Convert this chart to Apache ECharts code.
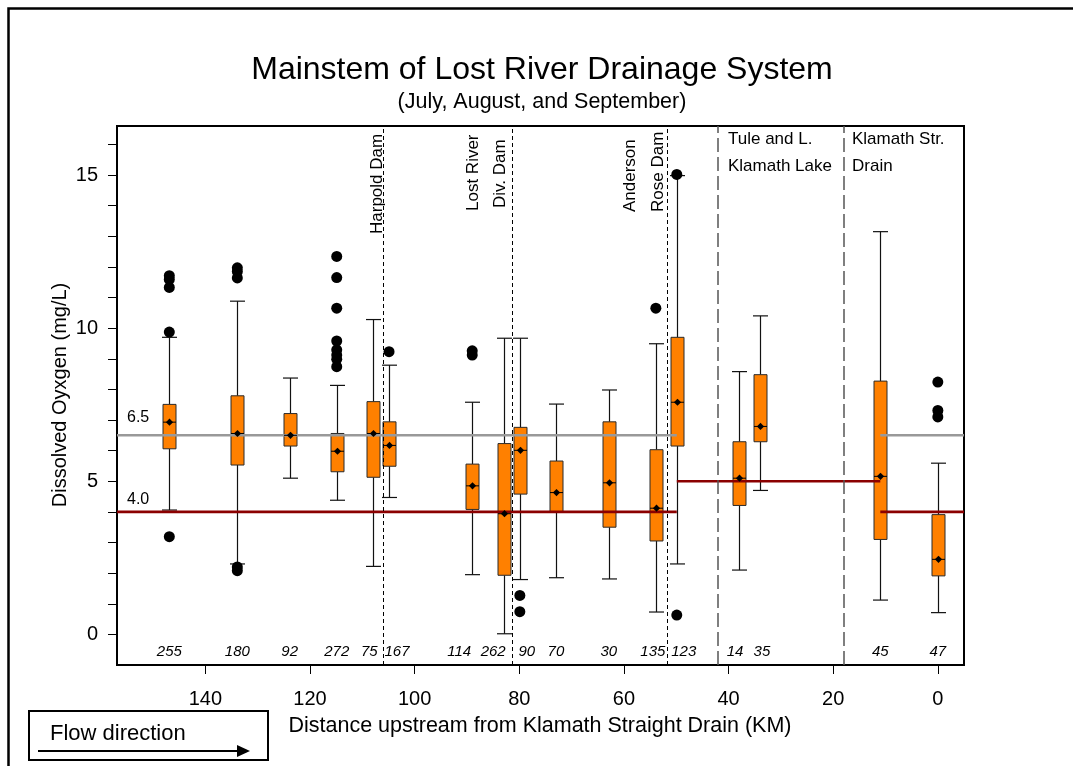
<!DOCTYPE html>
<html><head><meta charset="utf-8">
<script src="https://cdn.jsdelivr.net/npm/echarts@6/dist/echarts.min.js"></script>
<style>html,body{margin:0;padding:0;background:#fff}#c{width:1073px;height:766px}</style>
</head><body><div id="c"></div>
<script>
// ---- data (km upstream, dissolved oxygen mg/L) ----
const siteKm      = [146.9, 133.9, 123.9, 114.9, 107.9, 104.9, 89.0, 82.9, 79.9, 73.0, 62.9, 53.9, 49.9, 38.0, 34.0, 11.0, 0.0];
const lowWhisker  = [4.06, 2.30, 5.10, 4.38, 2.22, 4.47, 1.95, 0.02, 1.79, 1.85, 1.81, 0.73, 2.30, 2.10, 4.70, 1.12, 0.71];
const q1          = [6.06, 5.53, 6.15, 5.31, 5.13, 5.49, 4.08, 1.93, 4.58, 4.00, 3.50, 3.05, 6.15, 4.21, 6.29, 3.10, 1.91];
const medians     = [6.93, 6.56, 6.50, 5.98, 6.56, 6.17, 4.85, 3.94, 6.01, 4.63, 4.95, 4.12, 7.58, 5.10, 6.79, 5.16, 2.45];
const means       = [6.93, 6.56, 6.50, 5.98, 6.56, 6.17, 4.85, 3.94, 6.01, 4.63, 4.95, 4.12, 7.58, 5.10, 6.79, 5.16, 2.45];
const q3          = [7.51, 7.79, 7.21, 6.56, 7.60, 6.94, 5.56, 6.23, 6.76, 5.66, 6.94, 6.03, 9.70, 6.29, 8.48, 8.27, 3.91];
const highWhisker = [9.70, 10.88, 8.37, 8.13, 10.28, 8.79, 7.58, 9.67, 9.67, 7.52, 7.98, 9.49, 14.98, 8.58, 10.40, 13.15, 5.59];
const sampleCounts = [255, 180, 92, 272, 75, 167, 114, 262, 90, 70, 30, 135, 123, 14, 35, 45, 47];
const outliers = [
  [146.9, 11.71], [146.9, 11.59], [146.9, 11.33], [146.9, 9.87], [146.9, 3.19],
  [133.9, 11.97], [133.9, 11.85], [133.9, 11.64], [133.9, 2.20], [133.9, 2.08],
  [114.9, 12.34], [114.9, 11.65], [114.9, 10.65], [114.9, 9.58], [114.9, 9.29], [114.9, 9.12], [114.9, 8.98], [114.9, 8.74],
  [104.9, 9.23],
  [89.0, 9.26], [89.0, 9.12],
  [79.9, 1.27], [79.9, 0.74],
  [53.9, 10.65],
  [49.9, 15.02], [49.9, 0.63],
  [0.0, 8.24], [0.0, 7.31], [0.0, 7.10]
];
const damKm = [106.0, 81.4, 51.8];
const regionKm = [42.0, 18.0];
const grayStdUpper = [[156.9, 6.5], [49.9, 6.5]];
const redStdUpper  = [[156.9, 4.0], [49.9, 4.0]];
const redStdLake   = [[49.9, 5.0], [11.0, 5.0]];
const grayStdLower = [[11.0, 6.5], [-5, 6.5]];
const redStdLower  = [[11.0, 4.0], [-5, 4.0]];
const xTickValues = [0, 20, 40, 60, 80, 100, 120, 140];
const yTickValues = [0, 1, 2, 3, 4, 5, 6, 7, 8, 9, 10, 11, 12, 13, 14, 15, 16];
const yLabelValues = [0, 5, 10, 15];

// ---- layout (pixel nudges of crowded count labels, by box index) ----
const countNudgePx = {4: -4, 5: 8, 6: -13, 7: -11, 8: 7, 11: -3, 12: 7, 13: -4, 14: 2};

// ---- chart ----
const FONT = '"Liberation Sans", Arial, sans-serif';
const chart = echarts.init(document.getElementById('c'), null, {renderer: 'canvas'});
const boxData = siteKm.map((x, i) => [x, lowWhisker[i], q1[i], medians[i], q3[i], highWhisker[i], means[i]]);
const countData = siteKm.map((x, i) => [x, -0.58, sampleCounts[i]]);
const BW = 13, CW = 15;

function renderBox(params, api) {
  const x = api.value(0);
  const pL = api.coord([x, api.value(1)]);
  const p1 = api.coord([x, api.value(2)]);
  const p3 = api.coord([x, api.value(4)]);
  const pH = api.coord([x, api.value(5)]);
  const cx = Math.round(pL[0]) + 0.5;
  const ws = {stroke: '#111', lineWidth: 1.2};
  return {type: 'group', children: [
    {type: 'line', shape: {x1: cx, y1: pH[1], x2: cx, y2: p3[1]}, style: ws},
    {type: 'line', shape: {x1: cx, y1: p1[1], x2: cx, y2: pL[1]}, style: ws},
    {type: 'line', shape: {x1: cx - CW / 2, y1: pH[1], x2: cx + CW / 2, y2: pH[1]}, style: ws},
    {type: 'line', shape: {x1: cx - CW / 2, y1: pL[1], x2: cx + CW / 2, y2: pL[1]}, style: ws},
    {type: 'rect', shape: {x: cx - BW / 2, y: p3[1], width: BW, height: p1[1] - p3[1]},
      style: {fill: '#ff8000', stroke: '#2a2a2a', lineWidth: 1}}
  ]};
}
function renderMid(params, api) {
  const x = api.value(0);
  const pm = api.coord([x, api.value(3)]);
  const pa = api.coord([x, api.value(6)]);
  const cx = Math.round(pm[0]) + 0.5;
  const d = 3.6;
  return {type: 'group', children: [
    {type: 'line', shape: {x1: cx - BW / 2, y1: pm[1], x2: cx + BW / 2, y2: pm[1]}, style: {stroke: '#000', lineWidth: 1}},
    {type: 'polygon', shape: {points: [[cx, pa[1] - d], [cx + d, pa[1]], [cx, pa[1] + d], [cx - d, pa[1]]]}, style: {fill: '#000'}}
  ]};
}
function renderCount(params, api) {
  const p = api.coord([api.value(0), api.value(1)]);
  const dx = countNudgePx[params.dataIndex] || 0;
  return {type: 'text', x: p[0] + dx, y: p[1], style: {
    text: String(api.value(2)), fontFamily: FONT, fontStyle: 'italic', fontSize: 15,
    fill: '#000', align: 'center', verticalAlign: 'middle'}};
}
function stdLine(data, color) {
  return {type: 'line', data: data, symbol: 'none', silent: true, z: 4,
    lineStyle: {color: color, width: 2.6}, animation: false};
}

const option = {
  animation: false,
  grid: {left: 117, top: 126, width: 847, height: 539, show: true, borderColor: '#000', borderWidth: 2, backgroundColor: 'transparent'},
  xAxis: {
    type: 'value', inverse: true, min: -5, max: 156.9,
    axisLine: {show: true, onZero: false, lineStyle: {color: '#000', width: 2}},
    axisTick: {show: true, length: 9, lineStyle: {color: '#000', width: 1}, customValues: xTickValues},
    axisLabel: {show: true, margin: 24, fontFamily: FONT, fontSize: 20, color: '#000', customValues: xTickValues},
    splitLine: {show: false}
  },
  yAxis: {
    type: 'value', min: -1, max: 16.6,
    axisLine: {show: true, onZero: false, lineStyle: {color: '#000', width: 2}},
    axisTick: {show: true, length: 9, lineStyle: {color: '#000', width: 1}, customValues: yTickValues},
    axisLabel: {show: true, margin: 19, fontFamily: FONT, fontSize: 20, color: '#000', customValues: yLabelValues},
    splitLine: {show: false}
  },
  series: [
    {type: 'line', data: [], silent: true, z: 1,
      markLine: {silent: true, symbol: ['none', 'none'], label: {show: false}, animation: false,
        lineStyle: {color: '#000', type: [4, 3], width: 1},
        data: damKm.map(v => ({xAxis: v}))}},
    {type: 'line', data: [], silent: true, z: 1,
      markLine: {silent: true, symbol: ['none', 'none'], label: {show: false}, animation: false,
        lineStyle: {color: '#555', type: [14, 5], width: 1.5},
        data: regionKm.map(v => ({xAxis: v}))}},
    {type: 'custom', renderItem: renderBox, data: boxData, z: 3, silent: true, encode: {x: 0, y: [1, 2, 3, 4, 5]}},
    stdLine(grayStdUpper, '#999999'),
    stdLine(redStdUpper, '#8b0000'),
    stdLine(redStdLake, '#8b0000'),
    stdLine(grayStdLower, '#999999'),
    stdLine(redStdLower, '#8b0000'),
    {type: 'custom', renderItem: renderMid, data: boxData, z: 5, silent: true, encode: {x: 0, y: [3, 6]}},
    {type: 'scatter', data: outliers, symbol: 'circle', symbolSize: 11, z: 6, silent: true,
      itemStyle: {color: '#000', opacity: 1}},
    {type: 'custom', renderItem: renderCount, data: countData, z: 6, silent: true, encode: {x: 0, y: 1}}
  ],
  graphic: [
    {type: 'polyline', z: 10, shape: {points: [[8.5, 780], [8.5, 8.5], [1090, 8.5]]}, style: {stroke: '#000', lineWidth: 2.5, fill: null}},
    {type: 'text', x: 542, y: 70, style: {text: 'Mainstem of Lost River Drainage System', fontFamily: FONT, fontSize: 32, fill: '#000', align: 'center', verticalAlign: 'middle'}},
    {type: 'text', x: 542, y: 102, style: {text: '(July, August, and September)', fontFamily: FONT, fontSize: 21.5, fill: '#000', align: 'center', verticalAlign: 'middle'}},
    {type: 'text', x: 60, y: 395, rotation: Math.PI / 2, style: {text: 'Dissolved Oyxgen (mg/L)', fontFamily: FONT, fontSize: 20, fill: '#000', align: 'center', verticalAlign: 'middle'}},
    {type: 'text', x: 540, y: 726, style: {text: 'Distance upstream from Klamath Straight Drain (KM)', fontFamily: FONT, fontSize: 21.5, fill: '#000', align: 'center', verticalAlign: 'middle'}},
    // flow direction box
    {type: 'rect', shape: {x: 29, y: 711, width: 239, height: 49}, style: {fill: '#fff', stroke: '#000', lineWidth: 2}},
    {type: 'text', x: 50, y: 734, style: {text: 'Flow direction', fontFamily: FONT, fontSize: 22, fill: '#000', align: 'left', verticalAlign: 'middle'}},
    {type: 'line', shape: {x1: 38, y1: 751, x2: 240, y2: 751}, style: {stroke: '#000', lineWidth: 2}},
    {type: 'polygon', shape: {points: [[237, 745], [250, 751], [237, 757]]}, style: {fill: '#000'}},
    // standard labels
    {type: 'text', x: 127, y: 418, style: {text: '6.5', fontFamily: FONT, fontSize: 16, fill: '#000', align: 'left', verticalAlign: 'middle'}},
    {type: 'text', x: 127, y: 500, style: {text: '4.0', fontFamily: FONT, fontSize: 16, fill: '#000', align: 'left', verticalAlign: 'middle'}},
    // dam annotations (rotated)
    {type: 'text', x: 377, y: 234, rotation: Math.PI / 2, style: {text: 'Harpold Dam', fontFamily: FONT, fontSize: 17, fill: '#000', align: 'left', verticalAlign: 'middle'}},
    {type: 'text', x: 473, y: 211, rotation: Math.PI / 2, style: {text: 'Lost River', fontFamily: FONT, fontSize: 17, fill: '#000', align: 'left', verticalAlign: 'middle'}},
    {type: 'text', x: 500, y: 208, rotation: Math.PI / 2, style: {text: 'Div. Dam', fontFamily: FONT, fontSize: 17, fill: '#000', align: 'left', verticalAlign: 'middle'}},
    {type: 'text', x: 630, y: 212, rotation: Math.PI / 2, style: {text: 'Anderson', fontFamily: FONT, fontSize: 17, fill: '#000', align: 'left', verticalAlign: 'middle'}},
    {type: 'text', x: 658, y: 212, rotation: Math.PI / 2, style: {text: 'Rose Dam', fontFamily: FONT, fontSize: 17, fill: '#000', align: 'left', verticalAlign: 'middle'}},
    // region annotations
    {type: 'text', x: 728, y: 139, style: {text: 'Tule and L.', fontFamily: FONT, fontSize: 17, fill: '#000', align: 'left', verticalAlign: 'middle'}},
    {type: 'text', x: 728, y: 166, style: {text: 'Klamath Lake', fontFamily: FONT, fontSize: 17, fill: '#000', align: 'left', verticalAlign: 'middle'}},
    {type: 'text', x: 852, y: 139, style: {text: 'Klamath Str.', fontFamily: FONT, fontSize: 17, fill: '#000', align: 'left', verticalAlign: 'middle'}},
    {type: 'text', x: 852, y: 166, style: {text: 'Drain', fontFamily: FONT, fontSize: 17, fill: '#000', align: 'left', verticalAlign: 'middle'}}
  ]
};
chart.setOption(option);
</script>
</body></html>
